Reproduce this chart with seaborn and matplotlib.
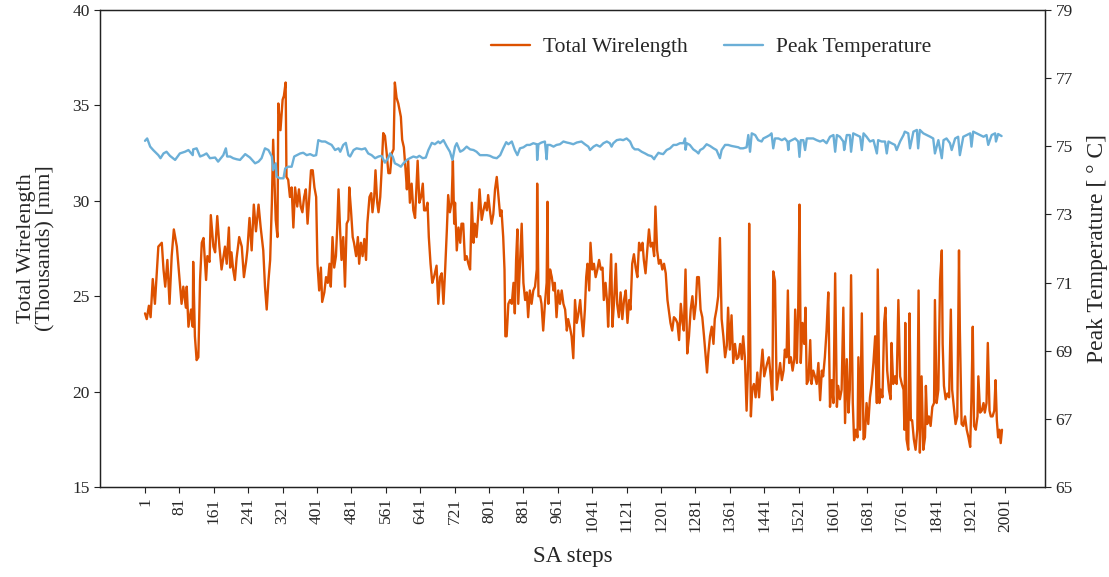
import matplotlib
matplotlib.use("Agg")
import matplotlib.pyplot as plt
import seaborn as sns
import pandas as pd

# ---------------- data ----------------
wl_steps = [1, 5, 10, 14, 19, 24, 32, 40, 44, 48, 53, 58, 63, 68, 75, 81, 86, 90, 96, 98,
            102, 108, 112, 113, 117, 121, 125, 129, 133, 137, 143, 146, 151, 154, 160, 164, 169, 174, 179, 183,
            187, 191, 196, 199, 202, 206, 210, 214, 220, 226, 231, 236, 239, 244, 249, 254, 259, 265, 270, 276,
            280, 284, 288, 292, 296, 299, 305, 309, 311, 316, 321, 324, 328, 330,
            334, 338, 342, 346, 350, 355, 359, 363, 367, 371, 375, 379, 383, 387, 391, 395, 399, 402, 406, 410,
            413, 418, 422, 426, 430, 433, 437, 441, 445, 448, 451, 455, 458, 462, 466, 470, 474, 476, 480, 484,
            487, 492, 496, 499, 503, 507, 511, 515, 518, 523, 527, 530, 534, 537, 541, 544, 548, 551, 555, 559,
            563, 567, 571, 575, 579, 582, 586, 590, 596, 599, 603, 607, 610, 613, 617, 621, 625, 629, 633, 635,
            639, 643, 647, 650, 654, 658, 661, 665, 669, 673, 677, 679, 683, 687,
            691, 695, 699, 703, 706, 710, 714, 717, 720, 722, 726, 730, 734, 737, 741, 745, 749, 753, 757, 761,
            765, 768, 772, 776, 779, 784, 788, 792, 796, 799, 803, 807, 811, 815, 819, 823, 827, 830, 834, 837,
            839, 842, 846, 850, 854, 858, 861, 864, 867, 869, 873, 877, 881, 885, 889, 892, 896, 900, 904, 908,
            912, 913, 916, 920, 923, 927, 931, 935, 937, 939, 943, 947, 951, 954, 958, 962, 966, 970, 974, 978,
            982, 985, 989, 993, 997, 1001, 1005, 1009, 1013,
            1016, 1020, 1024, 1027, 1030, 1034, 1037, 1041, 1045, 1049, 1053, 1057, 1061, 1065, 1068, 1072, 1076, 1078, 1082, 1085,
            1088, 1092, 1096, 1099, 1103, 1107, 1111, 1115, 1119, 1123, 1127, 1130, 1134, 1138, 1142, 1146, 1150, 1154, 1158, 1161,
            1165, 1169, 1173, 1177, 1181, 1185, 1188, 1192, 1196, 1200, 1204, 1208, 1212, 1216, 1220, 1223, 1227, 1231, 1235, 1239,
            1243, 1247, 1251, 1254, 1258, 1262, 1266, 1270, 1274, 1278, 1282, 1285, 1289, 1293, 1297, 1301, 1305, 1308, 1311, 1315,
            1319, 1323, 1326, 1330, 1334, 1338, 1342, 1346, 1350, 1354, 1357, 1361,
            1365, 1369, 1373, 1377, 1381, 1385, 1389, 1392, 1396, 1400, 1404, 1406, 1410, 1413, 1417, 1421, 1425, 1429, 1433, 1437,
            1441, 1444, 1448, 1452, 1456, 1460, 1462, 1466, 1470, 1474, 1478, 1482, 1486, 1489, 1493, 1496, 1499, 1503, 1507, 1511,
            1513, 1517, 1520, 1523, 1526, 1530, 1534, 1537, 1540, 1544, 1548, 1551, 1555, 1559, 1563, 1567, 1571, 1575, 1578, 1582,
            1586, 1590, 1594, 1598, 1602, 1606, 1610, 1613, 1617, 1621, 1625, 1629, 1633, 1637, 1640, 1643, 1647, 1650, 1654, 1658,
            1660, 1664, 1668, 1672, 1675, 1679, 1683, 1687, 1691, 1695, 1699, 1703, 1705, 1709, 1712, 1716, 1720, 1723, 1727, 1731,
            1735, 1737, 1741, 1745, 1749, 1753, 1757, 1761, 1765, 1767, 1769, 1772, 1776, 1779, 1782, 1785, 1789, 1793, 1797, 1800,
            1803, 1807, 1811, 1815, 1817, 1820, 1824, 1828, 1832, 1836, 1838, 1842, 1846, 1850, 1854, 1856, 1859, 1863, 1867, 1871,
            1875, 1878, 1882, 1886, 1890, 1894, 1896, 1900, 1904, 1908, 1912, 1916, 1920, 1923, 1926, 1929, 1933, 1937, 1939, 1943,
            1947, 1951, 1954, 1958, 1961, 1965, 1968, 1972, 1976, 1979, 1982, 1985, 1988, 1991, 1994]
wl_values = [24.1, 23.8, 24.5, 23.9, 25.9, 24.6, 27.6, 27.8, 26.4, 25.5, 26.9, 24.6, 27.1, 28.5, 27.6, 26.0, 24.6, 25.5, 24.4, 25.5,
             23.4, 24.3, 23.4, 26.8, 22.9, 21.65, 21.8, 25.85, 27.8, 28.05, 25.85, 27.1, 26.8, 29.25, 27.6, 27.3, 29.2, 27.6, 26.4, 27.0,
             27.6, 26.7, 28.6, 26.5, 27.3, 26.4, 25.85, 27.0, 28.1, 27.6, 26.0, 26.8, 27.4, 29.1, 27.4, 29.8, 28.4, 29.8, 28.6, 27.4,
             25.5, 24.3, 25.8, 26.9, 29.9, 33.2, 29.0, 28.1, 35.1, 33.7, 35.3, 35.5, 36.2, 31.25,
             31.1, 30.2, 30.7, 28.6, 30.7, 29.7, 30.6, 29.7, 29.4, 30.2, 30.6, 28.8, 30.2, 31.6, 31.6, 30.7, 30.2, 26.7, 25.3, 26.5,
             24.7, 25.2, 26.0, 25.7, 26.7, 25.5, 28.1, 26.5, 27.1, 28.6, 30.6, 28.3, 26.9, 28.1, 25.5, 28.8, 29.0, 30.7, 29.5, 28.1,
             27.8, 27.1, 28.1, 26.7, 27.8, 27.1, 28.0, 26.9, 28.8, 30.2, 30.4, 29.4, 30.2, 31.6, 29.9, 29.4, 30.2, 31.5, 33.55, 33.4,
             32.5, 31.45, 31.45, 32.5, 32.7, 36.2, 35.4, 35.1, 34.4, 33.2, 32.8, 31.6, 30.6, 32.1, 29.9, 30.9, 29.5, 29.1, 31.1, 32.1,
             29.9, 30.2, 30.9, 29.5, 29.5, 29.9, 28.1, 26.7, 25.7, 26.0, 26.4, 26.6, 24.6, 26.0,
             26.2, 24.6, 26.4, 28.5, 30.3, 29.4, 29.9, 32.1, 28.8, 29.9, 27.4, 28.6, 27.8, 28.8, 28.8, 26.9, 27.1, 26.7, 26.4, 29.9,
             27.8, 28.8, 28.1, 29.3, 30.6, 29.0, 29.5, 29.9, 29.5, 30.3, 29.5, 28.8, 29.3, 30.6, 31.25, 30.2, 29.2, 29.5, 28.1, 26.4,
             22.9, 22.9, 24.6, 24.8, 24.6, 25.7, 24.1, 26.9, 28.5, 24.6, 26.7, 28.8, 25.7, 24.8, 25.2, 23.9, 25.3, 24.6, 25.3, 25.5,
             26.4, 30.9, 25.0, 25.0, 24.6, 23.2, 24.6, 25.7, 29.95, 24.6, 26.4, 26.0, 25.3, 25.7, 23.9, 25.3, 24.6, 25.3, 24.6, 24.3,
             23.2, 23.8, 23.4, 22.9, 21.75, 24.8, 23.6, 24.1, 24.8,
             23.9, 22.9, 24.3, 26.0, 26.7, 25.3, 27.8, 26.4, 26.7, 26.0, 26.4, 26.9, 26.4, 26.5, 24.8, 25.7, 24.6, 23.4, 25.5, 27.2,
             23.4, 24.8, 26.7, 24.6, 23.9, 25.2, 23.8, 24.8, 25.3, 23.6, 24.8, 24.3, 26.7, 27.2, 26.5, 26.0, 27.8, 27.4, 27.8, 26.9,
             26.2, 27.4, 28.5, 27.6, 27.8, 27.1, 29.7, 27.4, 26.7, 26.9, 26.4, 26.7, 26.2, 24.8, 24.1, 23.6, 23.2, 23.9, 23.8, 23.6,
             22.7, 24.6, 23.6, 23.2, 26.4, 22.0, 22.9, 24.3, 25.0, 23.8, 24.6, 26.0, 26.0, 24.3, 23.9, 22.9, 21.8, 21.0, 22.0, 22.9,
             23.4, 22.5, 23.8, 24.3, 25.0, 28.05, 23.8, 22.9, 21.8, 22.4, 24.4, 22.2,
             24.0, 21.5, 22.5, 21.7, 21.8, 22.5, 21.7, 22.9, 21.8, 19.0, 21.7, 28.8, 18.7, 20.1, 20.4, 19.7, 21.0, 19.7, 21.1, 22.2,
             20.8, 21.1, 21.5, 21.8, 20.8, 19.55, 26.3, 25.8, 20.1, 20.8, 21.5, 20.6, 21.1, 22.2, 21.8, 25.3, 21.5, 21.8, 21.1, 21.7,
             24.3, 21.5, 24.3, 29.8, 21.5, 23.6, 22.5, 24.4, 20.4, 20.6, 22.7, 20.4, 21.1, 20.8, 20.4, 21.5, 19.55, 21.1, 20.8, 21.8,
             23.2, 25.2, 19.2, 20.6, 19.4, 26.2, 19.2, 20.3, 19.6, 20.1, 24.4, 18.35, 21.7, 18.9, 20.1, 26.1, 19.4, 17.45, 18.0, 17.6,
             21.8, 18.0, 24.1, 17.5, 17.6, 19.4, 18.3, 19.7, 20.4, 21.5, 22.9, 19.4, 26.4, 19.4, 20.1, 19.7, 23.6, 24.4, 21.1, 20.1,
             19.6, 22.55, 20.4, 20.8, 20.4, 24.8, 20.8, 20.4, 20.1, 18.0, 23.6, 17.5, 16.95, 24.1, 18.5, 18.5, 17.5, 16.95, 18.0, 25.3,
             16.8, 20.8, 16.95, 17.6, 20.3, 18.3, 18.7, 18.2, 19.2, 19.4, 24.8, 19.4, 20.1, 25.85, 27.4, 22.5, 20.3, 19.6, 19.9, 19.7,
             24.3, 20.1, 19.2, 18.3, 18.7, 27.4, 23.2, 18.3, 18.2, 18.7, 18.0, 17.6, 17.1, 19.7, 23.4, 18.2, 18.0, 18.7, 20.8, 18.9,
             19.0, 19.4, 18.9, 19.4, 22.55, 19.0, 18.7, 18.7, 19.0, 20.6, 18.5, 17.6, 18.0, 17.3, 18.0]

temp_steps = [1, 6, 13, 20, 32, 37, 44, 51, 59, 71, 82, 94, 102, 112, 113, 121, 129, 137, 144, 152,
              164, 171, 183, 189, 192, 199, 206, 214, 222, 234, 245, 257, 265, 272, 280, 288, 296, 299, 305, 307,
              315, 323,
              327, 334, 342, 348, 354, 362, 369, 377, 385, 393, 399, 404, 412, 420, 427, 435, 443, 451, 455, 462,
              468, 474, 478, 486, 493, 505, 513, 520, 528, 536, 544, 551, 559, 567, 571, 577, 582, 590, 596, 602,
              610, 617, 625, 633, 639, 647, 654, 660, 668, 675, 683,
              687, 695, 703, 710, 716, 722, 726, 734, 741, 749, 757, 765, 772, 780, 788, 796, 803, 811, 819, 827,
              834, 841, 846, 854, 861, 867, 873, 881, 889, 896, 904, 912, 913, 916, 923, 931, 935, 937, 943, 951,
              958, 966, 974, 982, 989, 997, 1005, 1016, 1024, 1032,
              1036, 1044, 1051, 1059, 1067, 1075, 1082, 1086, 1090, 1098, 1106, 1113, 1121, 1129, 1135, 1140, 1148, 1156, 1164, 1171,
              1179, 1185, 1187, 1195, 1199, 1206, 1214, 1222, 1230, 1237, 1245, 1253, 1257, 1258, 1261, 1268, 1276, 1284, 1288, 1292,
              1299, 1307, 1315, 1323, 1330, 1338, 1342, 1350, 1357, 1365, 1373, 1381,
              1385, 1392, 1400, 1404, 1408, 1412, 1420, 1427, 1435, 1439, 1447, 1454, 1458, 1462, 1466, 1474, 1482, 1489, 1495, 1497,
              1499, 1505, 1513, 1520, 1523, 1526, 1532, 1536, 1540, 1548, 1555, 1563, 1571, 1578, 1586, 1594, 1602, 1606, 1610, 1617,
              1625, 1627, 1633, 1640, 1643, 1648, 1656, 1664, 1668, 1672, 1679, 1687, 1695, 1703, 1706, 1714, 1722, 1726, 1730,
              1737, 1745, 1749, 1757, 1765, 1768, 1776, 1780, 1788, 1796, 1799, 1803, 1811, 1819, 1827, 1834, 1838, 1846, 1854, 1858,
              1865, 1873, 1877, 1885, 1892, 1896, 1904, 1912, 1920, 1923, 1927, 1935, 1943, 1951, 1958, 1962, 1970, 1978, 1980, 1985,
              1993]
temp_values = [75.16, 75.23, 74.99, 74.89, 74.74, 74.65, 74.79, 74.84, 74.72, 74.60, 74.79, 74.84, 74.89, 74.74, 74.91, 74.94, 74.70, 74.74, 74.79, 74.65,
               74.67, 74.55, 74.74, 74.94, 74.70, 74.70, 74.65, 74.62, 74.60, 74.77, 74.67, 74.50, 74.55, 74.65, 74.94, 74.89, 74.70, 74.30, 74.50, 74.11,
               74.06, 74.06,
               74.35, 74.40, 74.40, 74.70, 74.74, 74.79, 74.81, 74.74, 74.77, 74.72, 74.74, 75.18, 75.14, 75.14, 75.09, 75.04, 74.89, 74.94, 74.84, 75.04,
               75.10, 74.74, 74.70, 74.89, 74.94, 74.91, 74.94, 74.79, 74.74, 74.65, 74.70, 74.72, 74.52, 74.67, 74.79, 74.70, 74.50, 74.45, 74.40, 74.50,
               74.60, 74.65, 74.70, 74.67, 74.72, 74.65, 74.67, 74.89, 75.10, 75.06, 75.14,
               75.09, 75.18, 74.99, 74.84, 74.60, 74.99, 75.09, 74.84, 74.89, 74.99, 74.91, 74.89, 74.84, 74.74, 74.74, 74.74, 74.72, 74.67, 74.65, 74.74,
               74.94, 75.12, 75.06, 75.14, 74.89, 74.74, 74.94, 74.97, 75.04, 75.04, 75.09, 75.06, 74.60, 75.06, 75.11, 75.14, 74.62, 75.04, 75.04, 74.99,
               75.04, 75.06, 75.14, 75.11, 75.09, 75.06, 75.11, 75.14, 75.06, 74.99,
               74.89, 74.99, 75.04, 74.99, 75.09, 75.14, 75.09, 74.99, 75.09, 75.18, 75.20, 75.18, 75.23, 75.14, 74.97, 74.91, 74.91, 74.84, 74.79, 74.74,
               74.71, 74.62, 74.67, 74.81, 74.79, 74.77, 74.89, 74.94, 75.04, 75.04, 75.09, 75.09, 75.23, 74.90, 75.09, 75.04, 74.91, 74.84, 74.79, 74.89,
               74.94, 75.06, 75.01, 74.94, 74.89, 74.65, 74.89, 75.04, 75.04, 75.01, 74.99, 74.97,
               74.94, 74.94, 74.97, 75.33, 74.84, 75.38, 75.33, 75.18, 75.14, 75.23, 75.28, 75.33, 75.38, 74.94, 75.23, 75.23, 75.18, 75.23, 75.14, 74.89,
               75.14, 75.18, 75.23, 75.14, 74.69, 75.18, 75.18, 74.89, 75.23, 75.23, 75.23, 75.18, 75.14, 75.18, 75.09, 75.28, 75.33, 74.84, 75.33, 75.28,
               75.14, 74.89, 75.33, 75.33, 74.84, 75.38, 75.33, 75.28, 74.89, 75.38, 75.28, 75.14, 75.18, 74.79, 75.18, 75.14, 75.14, 74.79, 75.14,
               75.09, 75.04, 74.89, 75.14, 75.33, 75.43, 75.38, 74.94, 75.43, 75.48, 74.94, 75.48, 75.38, 75.33, 75.28, 75.23, 74.79, 75.18, 74.65, 75.18,
               75.23, 75.09, 74.89, 75.23, 75.28, 74.74, 75.28, 75.33, 75.38, 74.99, 75.43, 75.38, 75.33, 75.28, 75.33, 75.04, 75.33, 75.38, 75.14, 75.36,
               75.30]

x_ticks = list(range(1, 2002, 80))
left_ticks = [15, 20, 25, 30, 35, 40]
right_ticks = [65, 67, 69, 71, 73, 75, 77, 79]

wl_label = "Total Wirelength"
temp_label = "Peak Temperature"

# ---------------- plotting ----------------
sns.set_style("ticks")
plt.rcParams["font.family"] = ["Liberation Serif", "DejaVu Serif"]
plt.rcParams["axes.edgecolor"] = "#222222"
plt.rcParams["axes.linewidth"] = 0.9

W_COLOR = "#DD5100"
T_COLOR = "#6BAFD7"

fig = plt.figure(figsize=(11.09, 5.77), dpi=100)
ax = fig.add_axes([100 / 1109, 1 - 487 / 577, 945 / 1109, 477 / 577])
ax2 = ax.twinx()

df_w = pd.DataFrame({"step": wl_steps, "value": wl_values})
df_t = pd.DataFrame({"step": temp_steps, "value": temp_values})

sns.lineplot(data=df_w, x="step", y="value", ax=ax, color=W_COLOR, linewidth=1.7,
             label=wl_label, legend=False)
sns.lineplot(data=df_t, x="step", y="value", ax=ax2, color=T_COLOR, linewidth=1.7,
             label=temp_label, legend=False)

ax.set_xlim(-103.7, 2094)
ax.set_ylim(15, 40)
ax2.set_ylim(65, 79)
ax.set_xticks(x_ticks)
ax.set_xticklabels([str(v) for v in x_ticks], rotation=90)
ax.set_yticks(left_ticks)
ax2.set_yticks(right_ticks)

for a in (ax, ax2):
    a.tick_params(axis="both", labelsize=12.5, length=4, width=0.8, color="#222222", direction="out")
    for s in a.spines.values():
        s.set_visible(True)
        s.set_color("#222222")
        s.set_linewidth(0.9)

ax.set_xlabel("SA steps", fontsize=16.5, labelpad=10)
ax.set_ylabel("Total Wirelength\n(Thousands) [mm]", fontsize=16, labelpad=12, linespacing=1.05)
ax2.set_ylabel("Peak Temperature [ ° C]", fontsize=17, labelpad=10)

h1, l1 = ax.get_legend_handles_labels()
h2, l2 = ax2.get_legend_handles_labels()
fig.legend(h1 + h2, l1 + l2, loc="center", bbox_to_anchor=(0.641, 0.918),
           bbox_transform=fig.transFigure, ncol=2, frameon=False, fontsize=15.5,
           handlelength=1.8, handletextpad=0.6, columnspacing=1.7)

fig.savefig("out.png", dpi=100)
